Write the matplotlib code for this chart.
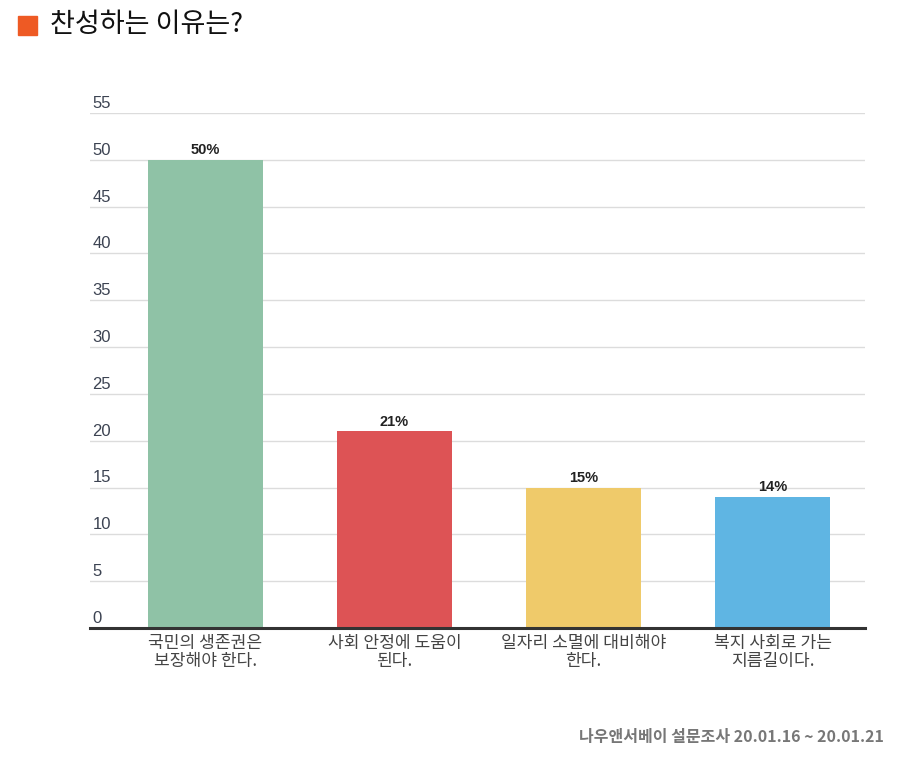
import matplotlib
matplotlib.use("Agg")
import matplotlib.pyplot as plt
import matplotlib.transforms as mtransforms
from matplotlib.patches import Rectangle

plt.rcParams['font.family'] = ['Noto Sans CJK KR', 'DejaVu Sans']

categories = ["국민의 생존권은\n보장해야 한다.", "사회 안정에 도움이\n된다.",
              "일자리 소멸에 대비해야\n한다.", "복지 사회로 가는\n지름길이다."]
values = [50, 21, 15, 14]
colors = ["#8fc2a6", "#dd5355", "#efca6a", "#5fb5e3"]
yticks = list(range(0, 60, 5))

W, H = 903, 757
fig = plt.figure(figsize=(W / 100, H / 100), dpi=100)

ax = fig.add_axes([90 / W, (H - 628) / H, (865 - 90) / W, (628 - 113) / H])
x = list(range(len(values)))
ax.bar(x, values, width=0.61, color=colors, zorder=2)
ax.set_xlim(-0.611, 3.489)
ax.set_ylim(0, 55)

ax.set_yticks(yticks)
ax.yaxis.grid(True, color="#dcdcdc", linewidth=1)
ax.set_axisbelow(True)
ax.tick_params(left=False, bottom=False, labelleft=False)
for s in ["top", "right", "left"]:
    ax.spines[s].set_visible(False)
ax.spines["bottom"].set_color("#333333")
ax.spines["bottom"].set_linewidth(2.2)
ax.spines["bottom"].set_zorder(3)

# y labels sit just above their gridlines
trans = mtransforms.blended_transform_factory(ax.transAxes, ax.transData)
for v in yticks:
    ax.annotate(str(v), xy=(0.003, v), xycoords=trans, xytext=(0, 1.5),
                textcoords="offset points", ha="left", va="bottom",
                fontsize=12, color="#3c4352",
                family=["Liberation Sans", "DejaVu Sans"])

# value labels
for xi, v in zip(x, values):
    ax.annotate(f"{v}%", xy=(xi, v), xytext=(0, 2), textcoords="offset points",
                ha="center", va="bottom", fontsize=10.5, fontweight="bold",
                color="#222222", family=["Liberation Sans", "DejaVu Sans"])

ax.set_xticks(x)
ax.set_xticklabels(categories, fontsize=12.3, color="#444444", linespacing=1.0)
ax.tick_params(axis="x", pad=1)

# title with orange square
fig.patches.append(Rectangle((18 / W, (H - 35) / H), 19 / W, 19 / H,
                             transform=fig.transFigure, color="#ee5a24"))
fig.text(50 / W, (H - 24) / H, "찬성하는 이유는?", fontsize=19.5, color="#111111",
         ha="left", va="center")

fig.text(884 / W, (H - 737) / H, "나우앤서베이 설문조사 20.01.16 ~ 20.01.21",
         fontsize=11.5, color="#777777", fontweight="bold", ha="right", va="center")

fig.savefig("out.png", dpi=100)
